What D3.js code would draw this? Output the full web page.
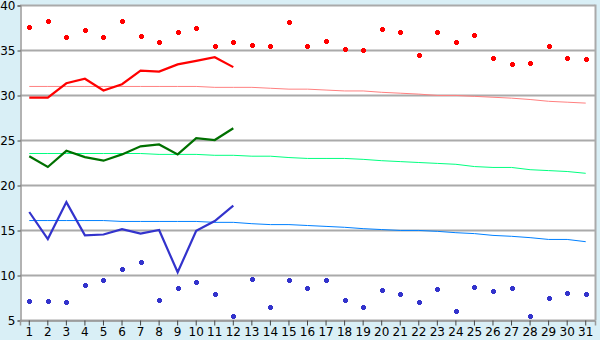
<!DOCTYPE html>
<html>
<head>
<meta charset="utf-8">
<script src="https://cdn.jsdelivr.net/npm/d3@7"></script>
<style>
  body { margin: 0; background: #d9eff6; }
  svg { display: block; }
  text { font-family: "DejaVu Sans", Verdana, sans-serif; font-size: 12px; fill: #000; }
</style>
</head>
<body>
<div id="chart"></div>
<script>
// Tage des Monats
var days = d3.range(1, 32);

// Tageswerte (gemessen), nur Tage 1-12
var maxActual = [29.7, 29.7, 31.3, 31.8, 30.5, 31.2, 32.7, 32.6, 33.4, 33.8, 34.2, 33.1];
var meanActual = [23.2, 22.0, 23.8, 23.1, 22.7, 23.4, 24.3, 24.5, 23.4, 25.2, 25.0, 26.3];
var minActual = [17.0, 14.0, 18.1, 14.4, 14.5, 15.1, 14.6, 15.0, 10.3, 14.9, 16.0, 17.7];

// Rekordwerte (Punkte)
var maxRecord = [37.5, 38.2, 36.4, 37.2, 36.4, 38.2, 36.6, 35.9, 37.0, 37.4, 35.5, 35.9, 35.6, 35.5, 38.1, 35.4,
                 36.0, 35.1, 35.0, 37.3, 37.0, 34.4, 37.0, 35.9, 36.7, 34.1, 33.5, 33.6, 35.5, 34.1, 34.0];
var minRecord = [7.1, 7.1, 7.0, 8.9, 9.4, 10.7, 11.5, 7.2, 8.6, 9.2, 7.9, 5.4, 9.6, 6.4, 9.4, 8.6,
                 9.4, 7.2, 6.4, 8.3, 7.9, 7.0, 8.5, 6.0, 8.7, 8.2, 8.6, 5.5, 7.4, 8.0, 7.9];

// Normalwerte (Trendlinien)
var maxNormal = [30.95, 30.95, 30.95, 30.95, 30.95, 30.95, 30.95, 30.95, 30.95, 30.95, 30.85, 30.85, 30.85, 30.75, 30.65, 30.65,
                 30.55, 30.45, 30.45, 30.3, 30.2, 30.1, 29.95, 29.95, 29.85, 29.75, 29.65, 29.5, 29.3, 29.2, 29.1];
var meanNormal = [23.5, 23.5, 23.5, 23.5, 23.5, 23.5, 23.5, 23.4, 23.4, 23.4, 23.3, 23.3, 23.2, 23.2, 23.05, 22.95,
                  22.95, 22.95, 22.85, 22.7, 22.6, 22.5, 22.4, 22.3, 22.05, 21.95, 21.95, 21.7, 21.6, 21.5, 21.3];
var minNormal = [16.05, 16.05, 16.05, 16.05, 16.05, 15.95, 15.95, 15.95, 15.95, 15.95, 15.85, 15.85, 15.7, 15.6, 15.6, 15.5,
                 15.4, 15.3, 15.15, 15.05, 14.95, 14.95, 14.85, 14.7, 14.6, 14.4, 14.3, 14.15, 13.95, 13.95, 13.7];

var yTicks = [5, 10, 15, 20, 25, 30, 35, 40];

var width = 600, height = 340;
var margin = {top: 5, right: 5, bottom: 20, left: 20};

var svg = d3.select("#chart").append("svg")
    .attr("width", width)
    .attr("height", height);

var x = d3.scaleBand()
    .domain(days)
    .range([margin.left, width - margin.right]);

var y = d3.scaleLinear()
    .domain([5, 40])
    .range([height - margin.bottom, margin.top]);

function cx(d) { return x(d) + x.bandwidth() / 2; }

// Plotfläche
svg.append("rect")
    .attr("x", margin.left)
    .attr("y", margin.top)
    .attr("width", width - margin.left - margin.right)
    .attr("height", height - margin.top - margin.bottom)
    .style("fill", "white");

// Gitterlinien
svg.append("g")
    .selectAll("line")
    .data(yTicks)
    .enter()
    .append("line")
    .attr("x1", margin.left)
    .attr("x2", width - margin.right)
    .attr("y1", d => Math.round(y(d)) + 0.5)
    .attr("y2", d => Math.round(y(d)) + 0.5)
    .style("stroke", "#aaaaaa")
    .style("stroke-width", 2);

// rechter Rand
svg.append("line")
    .attr("x1", width - margin.right + 0.5).attr("x2", width - margin.right + 0.5)
    .attr("y1", margin.top - 0.5).attr("y2", height - margin.bottom)
    .style("stroke", "#aaaaaa").style("stroke-width", 2);

// Achsen
var yAxis = svg.append("g")
    .attr("transform", "translate(" + (margin.left + 0.5) + ",0.5)")
    .call(d3.axisLeft(y).tickValues(yTicks).tickSize(3).tickPadding(2));

var xAxis = svg.append("g")
    .attr("transform", "translate(0," + (height - margin.bottom + 0.5) + ")")
    .call(d3.axisBottom(x).tickSize(5).tickPadding(2));

[yAxis, xAxis].forEach(function (ax) {
    ax.select(".domain").style("stroke", "#999999").style("stroke-width", 1.5);
    ax.selectAll(".tick line").style("stroke", "#444444");
    ax.selectAll("text").style("font-family", "DejaVu Sans, Verdana, sans-serif").style("font-size", "12px").style("fill", "#000");
});

// Linien
var line = d3.line()
    .x((d, i) => cx(days[i]))
    .y(d => y(d));

var lines = [
    {data: maxNormal, color: "#ff8080", w: 1},
    {data: meanNormal, color: "#00ff80", w: 1},
    {data: minNormal, color: "#0080ff", w: 1},
    {data: maxActual, color: "#ff0000", w: 2.2},
    {data: meanActual, color: "#007000", w: 2.2},
    {data: minActual, color: "#3333cc", w: 2.2}
];

svg.append("g")
    .selectAll("path")
    .data(lines)
    .enter()
    .append("path")
    .attr("d", d => line(d.data))
    .style("fill", "none")
    .style("stroke", d => d.color)
    .style("stroke-width", d => d.w);

// Punkte (Rekorde): kleines dickes Kreuz, 5x5 ohne Ecken
var marker = "M-1.5,-2.5H1.5V-1.5H2.5V1.5H1.5V2.5H-1.5V1.5H-2.5V-1.5H-1.5Z";

[{data: maxRecord, color: "#ff0000"}, {data: minRecord, color: "#3333cc"}].forEach(function (s) {
    svg.append("g")
        .selectAll("path")
        .data(s.data)
        .enter()
        .append("path")
        .attr("d", marker)
        .attr("transform", (d, i) => "translate(" + (Math.round(cx(days[i])) + 0.5) + "," + (Math.round(y(d)) + 0.5) + ")")
        .style("fill", s.color)
        .style("shape-rendering", "crispEdges");
});
</script>
</body>
</html>
